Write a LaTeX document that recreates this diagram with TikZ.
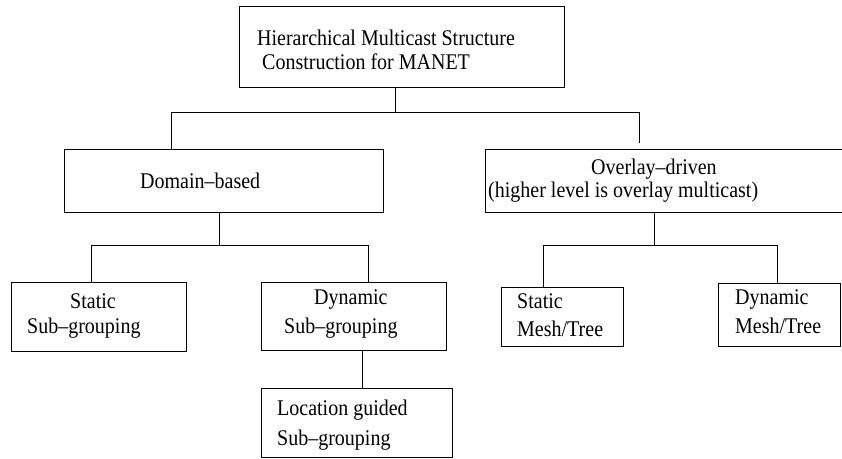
\documentclass[tikz,border=0pt]{standalone}
\usepackage{graphicx}
\usepackage{fontspec}
\setmainfont{Liberation Serif}
\newcommand{\tallt}[1]{\scalebox{1}[1.12]{#1}}
\begin{document}
\begin{tikzpicture}[x=1pt,y=-1pt,
  box/.style={draw,line width=1pt,rectangle,inner sep=0pt},
  txt/.style={inner sep=0pt,anchor=base west,font=\fontsize{20}{24}\selectfont},
  link/.style={draw,line width=1pt}]
\useasboundingbox (0,0) rectangle (842,458);
% boxes
\node[box,minimum width=325pt,minimum height=81pt] (top) at (401.5,46.5) {};
\node[box,minimum width=319pt,minimum height=63pt] (dom) at (223.5,180.5) {};
\node[box,minimum width=358pt,minimum height=63pt] (ovl) at (664,180.5) {};
\node[box,minimum width=175pt,minimum height=69pt] (ssub) at (99,316.5) {};
\node[box,minimum width=185pt,minimum height=68pt] (dsub) at (354,316) {};
\node[box,minimum width=191pt,minimum height=69pt] (loc) at (357,422.5) {};
\node[box,minimum width=122pt,minimum height=59pt] (smesh) at (562,316.5) {};
\node[box,minimum width=122pt,minimum height=63pt] (dmesh) at (779,314.5) {};
% texts
\node[txt] (t1a) at (257,45) {\tallt{Hierarchical Multicast Structure}};
\node[txt] (t1b) at (262,69) {\tallt{Construction for MANET}};
\node[txt] (t2) at (140,188) {\tallt{Domain–based}};
\node[txt] (t3a) at (591,174) {\tallt{Overlay–driven}};
\node[txt] (t3b) at (488,197) {\tallt{(higher level is overlay multicast)}};
\node[txt] (t4a) at (70,308) {\tallt{Static}};
\node[txt] (t4b) at (27,333) {\tallt{Sub–grouping}};
\node[txt] (t5a) at (314,304) {\tallt{Dynamic}};
\node[txt] (t5b) at (284,333) {\tallt{Sub–grouping}};
\node[txt] (t6a) at (277,415.5) {\tallt{Location guided}};
\node[txt] (t6b) at (277,445) {\tallt{Sub–grouping}};
\node[txt] (t7a) at (517,308) {\tallt{Static}};
\node[txt] (t7b) at (517,336) {\tallt{Mesh/Tree}};
\node[txt] (t8a) at (735,304) {\tallt{Dynamic}};
\node[txt] (t8b) at (735,333) {\tallt{Mesh/Tree}};
% junctions
\coordinate (j1) at (395,112);
\coordinate (j1L) at (171,112);
\coordinate (j1R) at (639,112);
\coordinate (oEnd) at (639,143);
\coordinate (j2) at (219,245);
\coordinate (j2L) at (91,245);
\coordinate (j2R) at (368,245);
\coordinate (j3) at (654,245);
\coordinate (j3L) at (543,245);
\coordinate (j3R) at (777,245);
\coordinate (j4) at (362,351);
% connectors
\draw[link] (j1 |- top.south) -- (j1);
\draw[link] (j1L |- dom.north) -- (j1L) -- (j1R) -- (oEnd);
\draw[link] (j2 |- dom.south) -- (j2);
\draw[link] (j2L |- ssub.north) -- (j2L) -- (j2R) -- (j2R |- dsub.north);
\draw[link] (j3 |- ovl.south) -- (j3);
\draw[link] (j3L |- smesh.north) -- (j3L) -- (j3R) -- (j3R |- dmesh.north);
\draw[link] (j4 |- dsub.south) -- (j4 |- loc.north);
\end{tikzpicture}
\end{document}
